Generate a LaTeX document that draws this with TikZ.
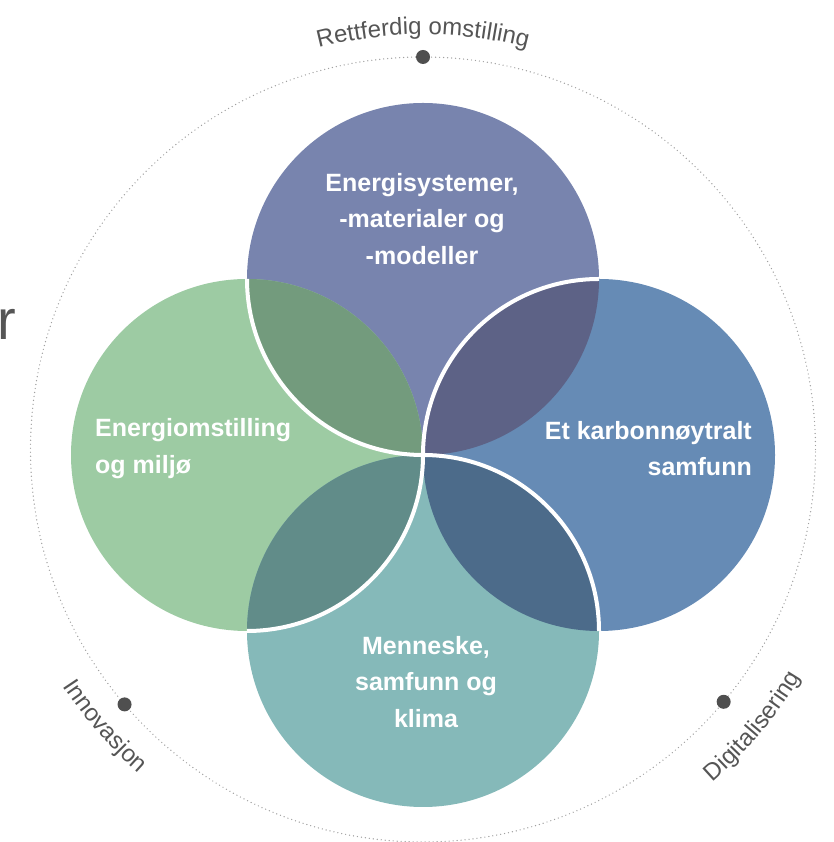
\documentclass[tikz,border=0pt]{standalone}
\usepackage{fontspec}
\setmainfont{Liberation Sans}
\usetikzlibrary{decorations.text}
\definecolor{topc}{HTML}{7884AE}
\definecolor{leftc}{HTML}{9DCBA3}
\definecolor{rightc}{HTML}{668BB5}
\definecolor{botc}{HTML}{85B9B9}
\definecolor{lensTL}{HTML}{739B7D}
\definecolor{lensTR}{HTML}{5D6286}
\definecolor{lensBR}{HTML}{4C6B8A}
\definecolor{lensBL}{HTML}{618C89}
\definecolor{ringc}{HTML}{A0A0A0}
\definecolor{dotc}{HTML}{4F4F4F}
\definecolor{labelc}{HTML}{555555}
\begin{document}
\begin{tikzpicture}[x=1pt,y=1pt,
  ring/.style={draw=ringc,line width=1.4pt,line cap=round,dash pattern=on 0pt off 4pt},
  marker/.style={fill=dotc},
  sep/.style={draw=white,line width=4pt},
  bigtext/.style={text=white,inner sep=0pt,font=\fontsize{25}{36.5}\selectfont\bfseries},
  arclabel/.style={decorate,decoration={text along path,text align=center,text color=labelc,text={|\fontsize{24}{24}\selectfont|#1}}}]
\useasboundingbox (0,0) rectangle (833,842);
\coordinate (O) at (423,392.5);
\coordinate (T) at (423,563);
\coordinate (L) at (247,387);
\coordinate (R) at (599,387);
\coordinate (B) at (423,211);
% outer dotted ring and markers
\draw[ring] (O) circle[radius=392.5];
\fill[marker] (O) ++(90:392.5) circle[radius=7];
\fill[marker] (O) ++(220.5:392.5) circle[radius=7];
\fill[marker] (O) ++(320:392.5) circle[radius=7];
% ring labels
\path[arclabel={Rettferdig omstilling}] (O) ++(112:415) arc[start angle=112,end angle=68,radius=415];
\path[arclabel={Innovasjon}] (O) ++(201:431) arc[start angle=201,end angle=241,radius=431];
\path[arclabel={Digitalisering}] (O) ++(300:441) arc[start angle=300,end angle=340,radius=441];
% circles
\fill[topc] (T) circle[radius=176];
\fill[leftc] (L) circle[radius=176];
\fill[rightc] (R) circle[radius=176];
\fill[botc] (B) circle[radius=176];
% lenses
\fill[lensTL] (T) ++(180:176) arc[start angle=180,end angle=270,radius=176] arc[start angle=0,end angle=90,radius=176] -- cycle;
\fill[lensTR] (R) ++(90:176) arc[start angle=90,end angle=180,radius=176] arc[start angle=270,end angle=360,radius=176] -- cycle;
\fill[lensBR] (B) ++(90:176) arc[start angle=90,end angle=0,radius=176] arc[start angle=270,end angle=180,radius=176] -- cycle;
\fill[lensBL] (L) ++(0:176) arc[start angle=0,end angle=-90,radius=176] arc[start angle=180,end angle=90,radius=176] -- cycle;
% white separating arcs
\draw[sep] (T) ++(180:176) arc[start angle=180,end angle=270,radius=176];
\draw[sep] (R) ++(90:176) arc[start angle=90,end angle=180,radius=176];
\draw[sep] (B) ++(90:176) arc[start angle=90,end angle=0,radius=176];
\draw[sep] (L) ++(0:176) arc[start angle=0,end angle=-90,radius=176];
% texts
\node[bigtext,align=center] (ttop) at (422,623) {Energisystemer,\\-materialer og\\-modeller};
\node[bigtext,align=left,anchor=west] (tleft) at (95,393.5) {Energiomstilling\\og miljø};
\node[bigtext,align=right,anchor=east] (tright) at (752,393.5) {Et karbonnøytralt\\samfunn};
\node[bigtext,align=center] (tbot) at (426,160) {Menneske,\\samfunn og\\klima};
\node[font=\fontsize{56}{56}\selectfont,text=labelc,anchor=base east,inner sep=0pt] (rcut) at (16,502) {r};
\end{tikzpicture}
\end{document}
